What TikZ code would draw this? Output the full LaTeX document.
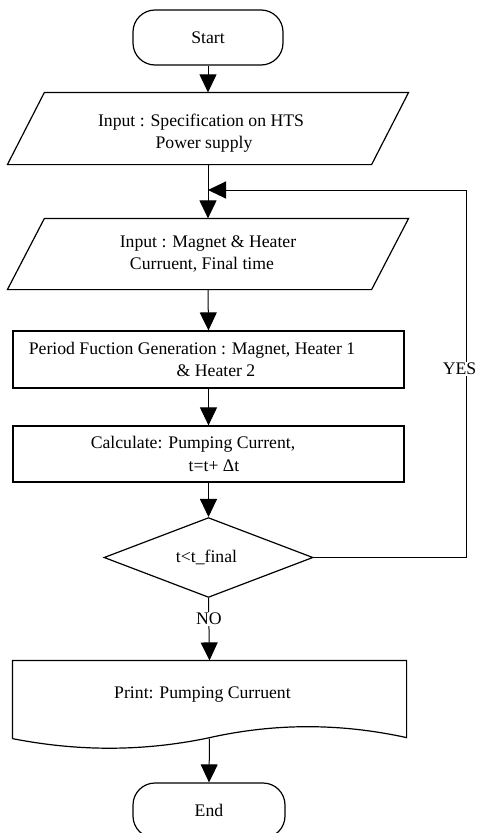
\documentclass[tikz,border=0pt]{standalone}
\usepackage{fontspec}
\setmainfont{Liberation Serif}
\usetikzlibrary{arrows.meta,shapes.geometric,calc}
\begin{document}
\begin{tikzpicture}[x=1pt,y=-1pt,
  line width=1.2pt,
  every node/.style={font=\fontsize{17.7}{22.5}\selectfont},
  term/.style={draw, rectangle, rounded corners=22pt, minimum width=150pt, minimum height=55pt, inner sep=0pt},
  box/.style={draw, rectangle, minimum width=391pt, inner sep=0pt, align=center},
  shapebox/.style={rectangle, inner sep=0pt, align=center},
  txt/.style={inner sep=0pt, align=center},
  arr/.style={-{Triangle[length=18pt,width=17pt]}, line width=1pt},
  lbl/.style={fill=white, inner sep=1.5pt}]
\useasboundingbox (0,0) rectangle (479,833);

% terminals
\node[term] (start) at (208,37.5) {Start};
\node[term, minimum width=152pt] (end) at (209,810.5) {End};

% parallelogram 1
\node[shapebox, minimum width=363pt, minimum height=71pt] (p1) at (208,128.5) {};
\draw ([xshift=18.5pt]p1.north west) -- ([xshift=18.5pt]p1.north east)
   -- ([xshift=-18.5pt]p1.south east) -- ([xshift=-18.5pt]p1.south west) -- cycle;
\node[txt] (p1t) at (204,133) {Input : Specification on HTS\hspace*{6pt}\\Power supply};

% parallelogram 2
\node[shapebox, minimum width=363pt, minimum height=70pt] (p2) at (208,254) {};
\draw ([xshift=18.5pt]p2.north west) -- ([xshift=18.5pt]p2.north east)
   -- ([xshift=-18.5pt]p2.south east) -- ([xshift=-18.5pt]p2.south west) -- cycle;
\node[txt] (p2t) at (205,254) {Input : Magnet \& Heater\hspace*{-6pt}\\Curruent, Final time\hspace*{6pt}};

% process boxes
\node[box, minimum height=57pt] (b3) at (208.5,359.5)
  {Period Fuction Generation : Magnet, Heater 1\hspace*{33pt}\\\hspace*{15pt}\& Heater 2};
\node[box, minimum height=56pt] (b4) at (208.5,454)
  {Calculate: Pumping Current,\hspace*{31pt}\\\hspace*{11pt}t=t+ Δt};

% decision
\node[diamond, draw, minimum width=209pt, minimum height=69pt, inner sep=0pt] (dec) at (208.5,557.5) {t<t\_final\hspace*{4pt}};

% print (document shape)
\node[shapebox, minimum width=393pt, minimum height=77pt] (pr) at (209.5,699.5) {};
\draw (pr.south west) -- (pr.north west) -- (pr.north east) -- ([yshift=1pt]pr.south east)
   .. controls (340,723) and (274,723) .. (208,738)
   .. controls (143,751.5) and (78,751.5) .. (pr.south west);
\node[txt] (prt) at (202.5,695) {Print: Pumping Curruent};

% connectors
\coordinate (m) at (208,190);
\coordinate (r) at (466,190);
\draw[arr] (start.south) -- (p1.north);
\draw[arr] (p1.south) -- (p2.north);
\draw[arr] (p2.south) -- (b3.north);
\draw[arr] (b3.south) -- (b4.north);
\draw[arr] (b4.south) -- (dec.north);
\draw[arr] (dec.south) -- (pr.north);
\draw[arr] (pr.south) -- (end.north);
\draw[arr] (dec.east) -| (r) -- (m);

% labels
\node[lbl] (yes) at (459.5,369) {YES};
\node[lbl] (no) at (209,619) {NO};
\end{tikzpicture}
\end{document}
